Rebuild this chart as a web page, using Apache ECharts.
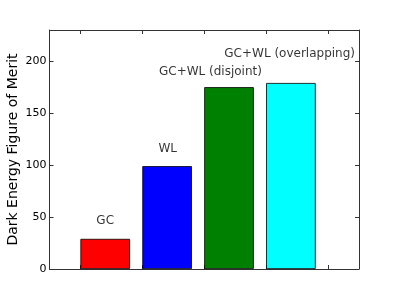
<!DOCTYPE html>
<html>
<head>
<meta charset="utf-8">
<script src="https://cdn.jsdelivr.net/npm/echarts@6/dist/echarts.min.js"></script>
<style>html,body{margin:0;padding:0;background:#fff;}#c{width:399px;height:299px;}</style>
</head>
<body>
<div id="c"></div>
<script>
// Data
const categories = ['GC', 'WL', 'GC+WL (disjoint)', 'GC+WL (overlapping)'];
const barLeft = [0.5, 1.5, 2.5, 3.5];
const barWidthData = 0.8;
const values = [29, 99, 175, 179];
const barColors = ['#ff0000', '#0000ff', '#008000', '#00ffff'];
const labelX = [0.9, 1.91, 2.6, 3.88];
const labelY = [46, 116, 190, 207];
const xTicks = [0.5, 1.5, 2.5, 3.5, 4.5];
const yTicks = [0, 50, 100, 150, 200];

const FONT = 'DejaVu Sans';
const chart = echarts.init(document.getElementById('c'), null, {renderer: 'canvas'});

function xAx(pos) {
  return {
    type: 'value', position: pos, min: 0, max: 5,
    axisLine: {show: true, onZero: false, lineStyle: {color: '#333', width: 1}},
    axisTick: {show: true, inside: true, length: 4, customValues: xTicks, lineStyle: {color: '#333'}},
    axisLabel: {show: false},
    splitLine: {show: false}
  };
}
function yAx(pos, main) {
  const a = {
    type: 'value', position: pos, min: 0, max: 230, interval: 50,
    axisLine: {show: true, onZero: false, lineStyle: {color: '#333', width: 1}},
    axisTick: {show: true, inside: true, length: 4, customValues: yTicks, lineStyle: {color: '#333'}},
    axisLabel: {show: main, customValues: yTicks, margin: 3, color: '#000', fontFamily: FONT, fontSize: 11},
    splitLine: {show: false}
  };
  if (main) {
    a.name = 'Dark Energy Figure of Merit';
    a.nameLocation = 'middle';
    a.nameGap = 29;
    a.nameMoveOverlap = false;
    a.nameTextStyle = {color: '#000', fontFamily: FONT, fontSize: 14};
  }
  return a;
}

chart.setOption({
  animation: false,
  backgroundColor: '#fff',
  grid: {left: 49.5, top: 30, right: 40, bottom: 30, containLabel: false, outerBoundsMode: 'none'},
  xAxis: [xAx('bottom'), xAx('top')],
  yAxis: [yAx('left', true), yAx('right', false)],
  series: [
    {
      type: 'bar',
      xAxisIndex: 0, yAxisIndex: 0,
      barWidth: 49.6,
      data: values.map((v, i) => ({
        value: [barLeft[i] + barWidthData / 2, v],
        itemStyle: {color: barColors[i], borderColor: '#000', borderWidth: 0.8}
      }))
    },
    {
      type: 'scatter',
      xAxisIndex: 0, yAxisIndex: 0,
      symbolSize: 0,
      silent: true,
      data: categories.map((c, i) => ({value: [labelX[i], labelY[i]], name: c})),
      label: {
        show: true, position: 'inside', formatter: p => p.name,
        color: '#000', fontFamily: FONT, fontSize: 12, textBorderWidth: 0
      }
    }
  ]
});
</script>
</body>
</html>
